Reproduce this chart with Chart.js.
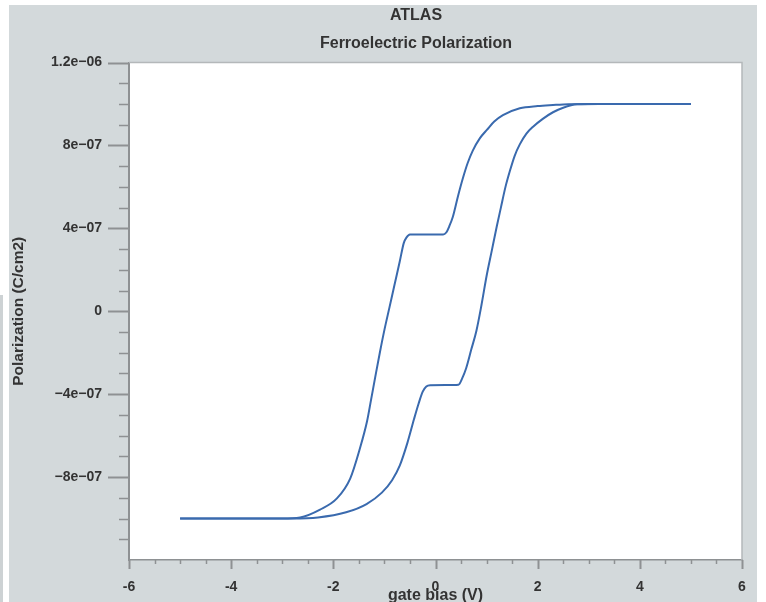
<!DOCTYPE html>
<html>
<head>
<meta charset="utf-8">
<title>ATLAS - Ferroelectric Polarization</title>
<script src="https://cdn.jsdelivr.net/npm/chart.js@4.4.1/dist/chart.umd.min.js"></script>
<style>
  html, body { margin: 0; padding: 0; background: #fff; }
  body { width: 766px; height: 602px; position: relative; overflow: hidden; }
  #panel { position: absolute; left: 9px; top: 5px; width: 748px; height: 597px; background: #d3d9db; overflow: hidden; }
  #edge { position: absolute; left: 0; top: 295px; width: 3px; height: 307px; background: #cdd2d4; }
  canvas { display: block; }
</style>
</head>
<body>
<div id="edge"></div>
<div id="panel"><canvas id="loop" width="748" height="597"></canvas></div>
<script>
// gate bias sweep -5V -> +5V (forward branch)
const upSweepV = [-5, -3.5, -2.8, -2.3, -1.75, -1.35, -1.05, -0.85, -0.7, -0.55, -0.42, -0.33, -0.25, -0.18, -0.1,
  0.2, 0.45, 0.52, 0.6, 0.7, 0.8, 0.9, 1.0, 1.1, 1.2, 1.28, 1.37, 1.46, 1.55, 1.65, 1.78, 1.91, 2.1, 2.3, 2.5, 2.77, 3.2, 5];
const upSweepP = [-1.0e-6, -1.0e-6, -1.0e-6, -0.995e-6, -0.97e-6, -0.93e-6, -0.875e-6, -0.815e-6, -0.745e-6, -0.635e-6,
  -0.52e-6, -0.445e-6, -0.388e-6, -0.363e-6, -0.357e-6, -0.356e-6, -0.354e-6, -0.325e-6, -0.275e-6, -0.185e-6, -0.095e-6,
  0.03e-6, 0.17e-6, 0.29e-6, 0.41e-6, 0.5e-6, 0.6e-6, 0.68e-6, 0.75e-6, 0.805e-6, 0.857e-6, 0.89e-6, 0.928e-6,
  0.96e-6, 0.982e-6, 0.998e-6, 1.0e-6, 1.0e-6];

// return sweep +5V -> -5V, stored in increasing bias order
const downSweepV = [-5, -3.5, -3.0, -2.65, -2.26, -1.93, -1.67, -1.48, -1.34, -1.26, -1.18, -1.09, -1.0, -0.9, -0.8, -0.7,
  -0.62, -0.57, -0.5, 0.15, 0.21, 0.27, 0.34, 0.44, 0.54, 0.63, 0.73, 0.87, 1.01, 1.15, 1.32, 1.65, 2.0, 2.3, 2.6, 3.0, 5];
const downSweepP = [-1.0e-6, -1.0e-6, -1.0e-6, -0.995e-6, -0.957e-6, -0.903e-6, -0.807e-6, -0.662e-6, -0.531e-6, -0.425e-6,
  -0.318e-6, -0.2e-6, -0.09e-6, 0.02e-6, 0.13e-6, 0.24e-6, 0.33e-6, 0.355e-6, 0.37e-6, 0.37e-6, 0.38e-6, 0.41e-6,
  0.456e-6, 0.555e-6, 0.645e-6, 0.715e-6, 0.775e-6, 0.835e-6, 0.876e-6, 0.915e-6, 0.946e-6, 0.979e-6, 0.99e-6,
  0.995e-6, 0.999e-6, 1.0e-6, 1.0e-6];

const xTickValues = [-6, -4, -2, 0, 2, 4, 6];
const xTickLabels = ["-6", "-4", "-2", "0", "2", "4", "6"];
const yTickValues = [-8e-7, -4e-7, 0, 4e-7, 8e-7, 1.2e-6];
const yTickLabels = ["\u22128e\u221207", "\u22124e\u221207", "0", "4e\u221207", "8e\u221207", "1.2e\u221206"];
const titleLines = ["ATLAS", "Ferroelectric Polarization"];

const FONT = "'Liberation Sans', Arial, sans-serif";
const TEXT = "#333";
const AXIS = "#8e9193";
const LINE = "#3a6aae";

const toPoints = (xs, ys) => xs.map((x, i) => ({ x, y: ys[i] }));

function labelFor(values, labels, v, eps) {
  const i = values.findIndex(t => Math.abs(t - v) < eps);
  return i < 0 ? "" : labels[i];
}

// two-line heading, centred over the window rather than the plot box
const heading = {
  id: "heading",
  afterDraw(chart) {
    const { ctx } = chart;
    ctx.save();
    ctx.fillStyle = TEXT;
    ctx.font = "bold 16px " + FONT;
    ctx.textAlign = "center";
    ctx.textBaseline = "middle";
    ctx.fillText(titleLines[0], 407, 11);
    ctx.fillText(titleLines[1], 407, 39);
    ctx.restore();
  }
};

// white plot box, light frame, and long/short tick marks taken from the scales
const frameTicks = {
  id: "frameTicks",
  beforeDraw(chart) {
    const { ctx, chartArea: a } = chart;
    ctx.save();
    ctx.fillStyle = "#fff";
    ctx.fillRect(a.left, a.top, a.right - a.left, a.bottom - a.top);
    ctx.restore();
  },
  afterDraw(chart) {
    const { ctx, chartArea: a, scales } = chart;
    ctx.save();
    ctx.strokeStyle = "#b4b8ba";
    ctx.lineWidth = 1.5;
    ctx.beginPath();
    ctx.moveTo(a.left, a.top);
    ctx.lineTo(a.right, a.top);
    ctx.lineTo(a.right, a.bottom);
    ctx.stroke();

    ctx.strokeStyle = AXIS;
    const ys = scales.y;
    ys.ticks.forEach((t, i) => {
      if (t.value <= ys.min) return;
      const py = Math.round(ys.getPixelForTick(i)) + 0.5;
      const major = t.label !== "";
      const len = major ? 21 : 10;
      ctx.lineWidth = major ? 2 : 1.5;
      ctx.beginPath();
      ctx.moveTo(a.left - len, py);
      ctx.lineTo(a.left, py);
      ctx.stroke();
    });

    const xs = scales.x;
    xs.ticks.forEach((t, i) => {
      const px = Math.round(xs.getPixelForTick(i)) + 0.5;
      const major = t.label !== "";
      const len = major ? 9 : 4;
      ctx.lineWidth = major ? 2 : 1.5;
      ctx.beginPath();
      ctx.moveTo(px, a.bottom);
      ctx.lineTo(px, a.bottom + len);
      ctx.stroke();
    });
    ctx.restore();
  }
};

new Chart(document.getElementById("loop"), {
  type: "line",
  data: {
    datasets: [
      { label: "forward", data: toPoints(upSweepV, upSweepP) },
      { label: "reverse", data: toPoints(downSweepV, downSweepP) }
    ]
  },
  options: {
    responsive: false,
    devicePixelRatio: 1,
    animation: false,
    layout: { padding: { left: 0, right: 15, top: 57.5, bottom: 0 } },
    elements: {
      point: { radius: 0 },
      line: { borderColor: LINE, borderWidth: 2, cubicInterpolationMode: "monotone", fill: false }
    },
    plugins: {
      legend: { display: false },
      tooltip: { enabled: false },
      title: { display: false }
    },
    scales: {
      x: {
        type: "linear", min: -6, max: 6,
        afterFit: s => { s.height = 42; },
        border: { color: AXIS, width: 1.5 },
        grid: { drawOnChartArea: false, tickLength: 9, tickColor: "transparent" },
        ticks: {
          stepSize: 0.5, autoSkip: false, maxRotation: 0, padding: 10, color: TEXT,
          font: { family: FONT, size: 14, weight: "bold" },
          callback: v => labelFor(xTickValues, xTickLabels, v, 1e-6)
        },
        title: {
          display: true, text: "gate bias (V)", color: TEXT,
          font: { family: FONT, size: 16, weight: "bold", lineHeight: 0.8 },
          padding: { top: 0, bottom: 0 }
        }
      },
      y: {
        type: "linear", min: -1.2e-6, max: 1.2e-6,
        afterFit: s => { s.width = 120; },
        border: { color: AXIS, width: 2 },
        grid: { drawOnChartArea: false, tickLength: 21, tickColor: "transparent" },
        ticks: {
          stepSize: 1e-7, autoSkip: false, maxTicksLimit: 100, padding: 6, color: TEXT,
          font: { family: FONT, size: 14, weight: "bold" },
          callback: v => labelFor(yTickValues, yTickLabels, v, 1e-9)
        },
        title: {
          display: true, text: "Polarization (C/cm2)", color: TEXT,
          font: { family: FONT, size: 15.5, weight: "bold", lineHeight: 1 },
          padding: { top: 2, bottom: 0 }
        }
      }
    }
  },
  plugins: [frameTicks, heading]
});
</script>
</body>
</html>
